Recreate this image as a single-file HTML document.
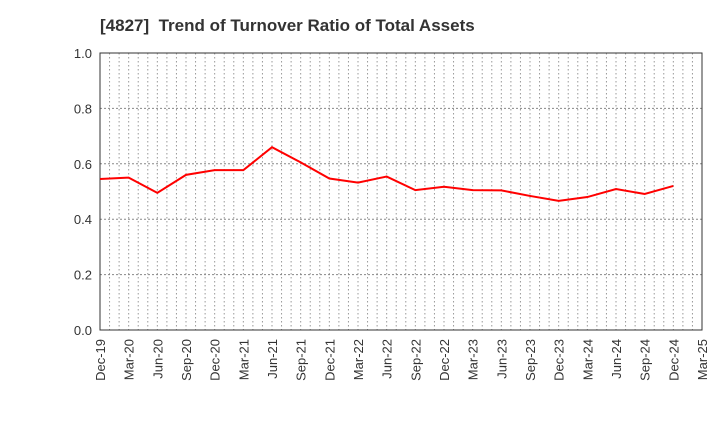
<!DOCTYPE html>
<html><head><meta charset="utf-8"><style>
body{margin:0;background:#fff;}
svg{display:block;font-family:"Liberation Sans",sans-serif;}
</style></head><body>
<svg id="chart" width="720" height="440">
<text x="100" y="31" font-size="17" font-weight="bold" fill="#333" xml:space="preserve" style="white-space:pre">[4827]  Trend of Turnover Ratio of Total Assets</text>
<g id="grid"></g><g id="axes"></g><g id="series"></g>
</svg>
<script>
const categories=["Dec-19","Mar-20","Jun-20","Sep-20","Dec-20","Mar-21","Jun-21","Sep-21","Dec-21","Mar-22","Jun-22","Sep-22","Dec-22","Mar-23","Jun-23","Sep-23","Dec-23","Mar-24","Jun-24","Sep-24","Dec-24","Mar-25"];
const values=[0.545,0.55,0.495,0.56,0.577,0.577,0.66,0.605,0.547,0.532,0.554,0.505,0.517,0.505,0.504,0.484,0.466,0.48,0.509,0.491,0.52];
const yTicks=[0,0.2,0.4,0.6,0.8,1.0];
const L=100,R=702,T=53,B=330;
const ns="http://www.w3.org/2000/svg";
const n=categories.length-1;
const xs=i=>L+(R-L)*i/n;
const ys=v=>B-(B-T)*v;
function mk(tag,attrs,parent){const e=document.createElementNS(ns,tag);for(const k in attrs)e.setAttribute(k,attrs[k]);parent.appendChild(e);return e;}
const grid=document.getElementById('grid'),axes=document.getElementById('axes'),series=document.getElementById('series');
for(let m=1;m<n*3;m++){const x=L+(R-L)*m/(n*3);
const g=mk('line',{x1:x,x2:x,y1:T,y2:B,stroke:'#999','stroke-dasharray':'1.5,2.5','stroke-width':1},grid);

}
yTicks.forEach(v=>{const y=ys(v);
if(v>0){const g=mk('line',{x1:L,x2:R,y1:y,y2:y,stroke:'#888','stroke-dasharray':'2,2','stroke-width':1},grid);

}
const t=mk('text',{x:L-8,y:y+5,'text-anchor':'end','font-size':13,fill:'#333'},axes);t.textContent=v.toFixed(1);

});
const f=mk('rect',{x:L,y:T,width:R-L,height:B-T,fill:'none',stroke:'#333','stroke-width':1},axes);


categories.forEach((c,i)=>{const x=xs(i);
const t=mk('text',{x:0,y:0,'text-anchor':'end','font-size':13,fill:'#333',transform:`translate(${x+5},${B+9}) rotate(-90)`},axes);t.textContent=c;

});
const p=mk('polyline',{points:values.map((v,i)=>xs(i)+','+ys(v)).join(' '),fill:'none',stroke:'#f00','stroke-width':2},series);


</script>
</body></html>
